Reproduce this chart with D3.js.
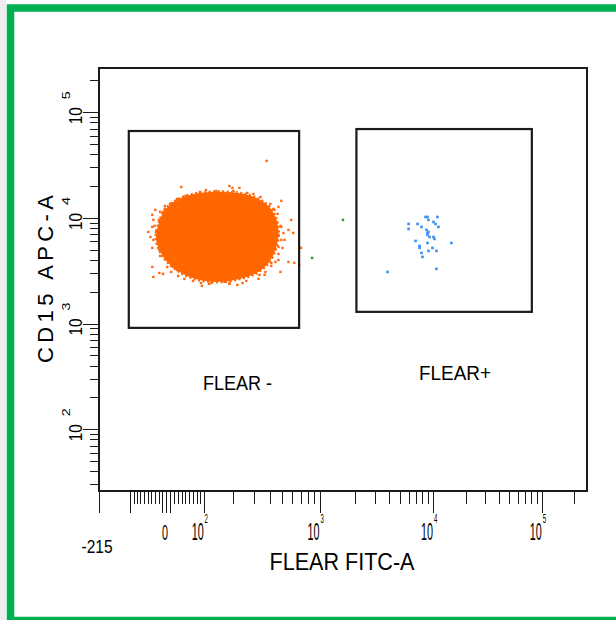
<!DOCTYPE html>
<html>
<head>
<meta charset="utf-8">
<script src="https://cdn.jsdelivr.net/npm/d3@7"></script>
<style>
  body { margin: 0; background: #fff; }
  svg { display: block; font-family: 'Liberation Sans', Arial, sans-serif; }
</style>
</head>
<body>
<div id="chartEl"></div>
<script>
// gates as [fitcLo, fitcHi, apcLo, apcHi]
const gateNeg = [-105, 680, 910, 66400];
const gatePos = [2060, 81000, 1290, 69300];
const gateLabels = ['FLEAR -', 'FLEAR+'];

// solid part of the FLEAR- cloud, outline as [FITC, APC]
const coreOutline = [
  [-27, 6460], [-19, 8960], [-3, 11890], [28, 14790], [72, 16840], [123, 17590],
  [178, 17590], [248, 16840], [323, 15110], [394, 12690], [449, 9570], [465, 6900],
  [440, 4980], [388, 3750], [312, 3010], [226, 2645], [149, 2480], [86, 2590],
  [39, 3010], [3, 3830], [-18, 4980]
];

// loose events around the cloud [FITC, APC]
const orangeDots = [
  [375, 34600], [39, 19600], [185, 20000], [197, 19200], [123, 17200], [163, 17200],
  [98, 16100], [70, 15800], [37, 14800], [18, 13800], [31, 12700], [490, 14500],
  [465, 12700], [432, 11900], [300, 14800], [341, 13800], [388, 12700], [-29, 11900],
  [-37, 10700], [-34, 9570], [-16, 11400], [-3, 12200], [-48, 7360], [-42, 6600],
  [-37, 8210], [587, 9570], [558, 7690], [610, 7200], [490, 8210], [465, 6900],
  [519, 6190], [-37, 5200], [-21, 5790], [-34, 6190], [-37, 3430], [-34, 2760],
  [-18, 3010], [-8, 2950], [18, 3430], [28, 3220], [42, 3010], [64, 2760],
  [92, 2420], [123, 2420], [167, 2480], [185, 2420], [240, 2420], [323, 2650],
  [361, 2890], [408, 3750], [465, 4000], [482, 3080], [558, 3830], [622, 3750],
  [705, 5200], [681, 3590], [388, 4660], [432, 4980], [465, 5310],
  [-27, 7360], [-21, 5670], [-19, 9570], [-8, 11380], [10, 13550], [50, 16130],
  [89, 17590], [139, 17980], [201, 17980], [263, 17210], [335, 15780], [401, 13550],
  [457, 10900], [482, 8390], [490, 6190], [465, 4560], [408, 3510], [329, 2885],
  [258, 2530], [185, 2370], [116, 2370], [70, 2530], [31, 2820], [3, 3430],
  [-16, 4365], [-31, 8390], [-18, 4980], [-3, 12970], [28, 15110], [107, 18360],
  [226, 19200], [294, 16840], [424, 12150], [509, 7200], [500, 5195], [440, 3830],
  [367, 3080], [217, 2320], [95, 2270], [47, 2645], [13, 3080]
];

const blueDots = [
  [8530, 10200], [8890, 10200], [9080, 9570], [10960, 10200], [5990, 8760], [5990, 7860],
  [7220, 8760], [7850, 8210], [10080, 9150], [10520, 8760], [11190, 8210], [8710, 7690],
  [8890, 7200], [9080, 7360], [8890, 6900], [9270, 6600], [10080, 6600], [10290, 6320],
  [6930, 6050], [8890, 5790], [14700, 5790], [7530, 5430], [7530, 5200], [9870, 5200],
  [9080, 4870], [10730, 4870], [7850, 4660], [8010, 4270], [3880, 3080], [10730, 3290]
];

const greenDots = [[1576, 9570], [867, 4180]];

// axis ticks
const xMajorTicks = [-215, -100, -10, 0, 10, 100, 1000, 10000, 100000];
const xMinorTicks = [
  -90, -80, -70, -60, -50, -40, -30, -20, 20, 30, 40, 50, 60, 70, 80, 90,
  200, 300, 400, 500, 600, 700, 800, 900,
  2000, 3000, 4000, 5000, 6000, 7000, 8000, 9000,
  20000, 30000, 40000, 50000, 60000, 70000, 80000, 90000, 200000
];
const xDecadeLabels = [100, 1000, 10000, 100000];
const xDecadeExps = ['2', '3', '4', '5'];

const yMajorTicks = [100, 1000, 10000, 100000];
const yMinorTicks = [
  30, 40, 50, 60, 70, 80, 90,
  200, 300, 400, 500, 600, 700, 800, 900,
  2000, 3000, 4000, 5000, 6000, 7000, 8000, 9000,
  20000, 30000, 40000, 50000, 60000, 70000, 80000, 90000, 200000
];
const yDecadeExps = ['2', '3', '4', '5'];

// logicle display transform (FACS style biexponential)
const T = 262144, M = 4.5, W = 0.6;

function solveP (w) {
  let lo = 1.0001, hi = 10;
  for (let i = 0; i < 60; i++) {
    const mid = (lo + hi) / 2;
    if (2 * mid * Math.log10(mid) / (mid + 1) > w) hi = mid; else lo = mid;
  }
  return (lo + hi) / 2;
}
const p = solveP(W);
const aL = T * Math.pow(10, -(M - W));

function biex (yv) {
  if (yv < W) return -biex(2 * W - yv);
  const u = yv - W;
  return aL * (Math.pow(10, u) - p * p * Math.pow(10, -u / p) + p * p - 1);
}

function logicle (v) {
  let lo = -2, hi = M + 1;
  for (let i = 0; i < 60; i++) {
    const mid = (lo + hi) / 2;
    if (biex(mid) < v) lo = mid; else hi = mid;
  }
  return (lo + hi) / 2;
}

const margin = {top: 68, left: 99};
const width = 488;
const height = 423;
const zeroAt = 67;
const ink = '#1a1a1a';

// negative and positive parts of the display get their own stretch
const x = d3.scaleLinear()
  .domain([logicle(-215), W, M])
  .range([0, zeroAt, width]);
const fx = v => x(logicle(v));

const y = d3.scaleLog()
  .domain([26, 262144])
  .range([height, 0]);

const svg = d3.select('#chartEl').append('svg')
  .attr('width', 616)
  .attr('height', 620);

svg.append('rect')
  .attr('x', 0).attr('y', 0)
  .attr('width', 6).attr('height', 620)
  .attr('fill', '#ededed');

svg.append('rect')
  .attr('x', 10.5).attr('y', 8)
  .attr('width', 700).attr('height', 612.5)
  .attr('fill', 'none')
  .attr('stroke', '#00b050')
  .attr('stroke-width', 7.5);

const g = svg.append('g')
  .attr('transform', 'translate(' + margin.left + ',' + margin.top + ')');

// ticks
function tickAxis (axis, values, size, transform) {
  const a = g.append('g')
    .attr('transform', transform)
    .call(axis.tickValues(values).tickSize(size).tickFormat(''));
  a.select('.domain').remove();
  a.selectAll('line').attr('stroke', ink).attr('shape-rendering', 'crispEdges');
}
tickAxis(d3.axisBottom(x), xMinorTicks.map(logicle), 13, 'translate(0,' + height + ')');
tickAxis(d3.axisBottom(x), xMajorTicks.map(logicle), 22, 'translate(0,' + height + ')');
tickAxis(d3.axisLeft(y), yMinorTicks, 9, null);
tickAxis(d3.axisLeft(y), yMajorTicks, 16, null);

// plot frame
g.append('rect')
  .attr('width', width)
  .attr('height', height)
  .attr('fill', 'none')
  .attr('stroke', ink)
  .attr('stroke-width', 2);

function label (txt, tx, ty, size, len, anchor, rot, adjust) {
  return g.append('text')
    .attr('transform', 'translate(' + tx + ',' + ty + ')' + (rot ? ' rotate(-90)' : ''))
    .attr('font-size', size)
    .attr('text-anchor', anchor)
    .attr('textLength', len)
    .attr('lengthAdjust', adjust || 'spacingAndGlyphs')
    .attr('fill', '#000')
    .text(txt);
}

// x tick labels
label('0', fx(0) - 1, height + 49, 22, 6, 'middle', false);
label('-215', fx(-215) - 2, height + 62, 19, 31, 'middle', false);
xDecadeLabels.forEach((v, i) => {
  const t = g.append('text')
    .attr('transform', 'translate(' + (fx(v) - 12) + ',' + (height + 49) + ') scale(0.47,1)')
    .attr('font-size', 23)
    .attr('fill', '#000');
  t.append('tspan').text('10');
  t.append('tspan')
    .attr('font-size', 13)
    .attr('dx', 2)
    .attr('dy', -17)
    .text(xDecadeExps[i]);
});

// y tick labels
yMajorTicks.forEach((v, i) => {
  label('10', -17, y(v) + 12, 18, 17, 'start', true);
  label(yDecadeExps[i], -29, y(v) - 13, 11, 8, 'start', true);
});

// axis titles
label('FLEAR FITC-A', 243, 502, 23, 145, 'middle', false);
label('CD15 APC-A', -46, 211, 22, 168, 'middle', true, 'spacing');

// events: solid core with a ragged rim
g.append('path')
  .datum(coreOutline)
  .attr('d', d3.line().x(d => fx(d[0])).y(d => y(d[1])).curve(d3.curveCatmullRomClosed))
  .attr('fill', '#ff6600')
  .attr('stroke', '#ff6600')
  .attr('stroke-width', 3)
  .attr('stroke-dasharray', '2 2.5');

function dots (data, color, size) {
  g.append('g').selectAll('rect')
    .data(data)
    .enter().append('rect')
    .attr('x', d => fx(d[0]) - size / 2)
    .attr('y', d => y(d[1]) - size / 2)
    .attr('width', size)
    .attr('height', size)
    .attr('fill', color);
}
dots(orangeDots, '#ff6a10', 2.4);
dots(blueDots, '#3a8ef6', 2.6);
dots(greenDots, '#2f8f3a', 2.4);

// gates
[gateNeg, gatePos].forEach(gt => {
  g.append('rect')
    .attr('x', fx(gt[0]))
    .attr('y', y(gt[3]))
    .attr('width', fx(gt[1]) - fx(gt[0]))
    .attr('height', y(gt[2]) - y(gt[3]))
    .attr('fill', 'none')
    .attr('stroke', ink)
    .attr('stroke-width', 2.2);
});

label(gateLabels[0], 104, 322, 21, 69, 'start', false);
label(gateLabels[1], 320, 312, 21, 72, 'start', false);
</script>
</body>
</html>
